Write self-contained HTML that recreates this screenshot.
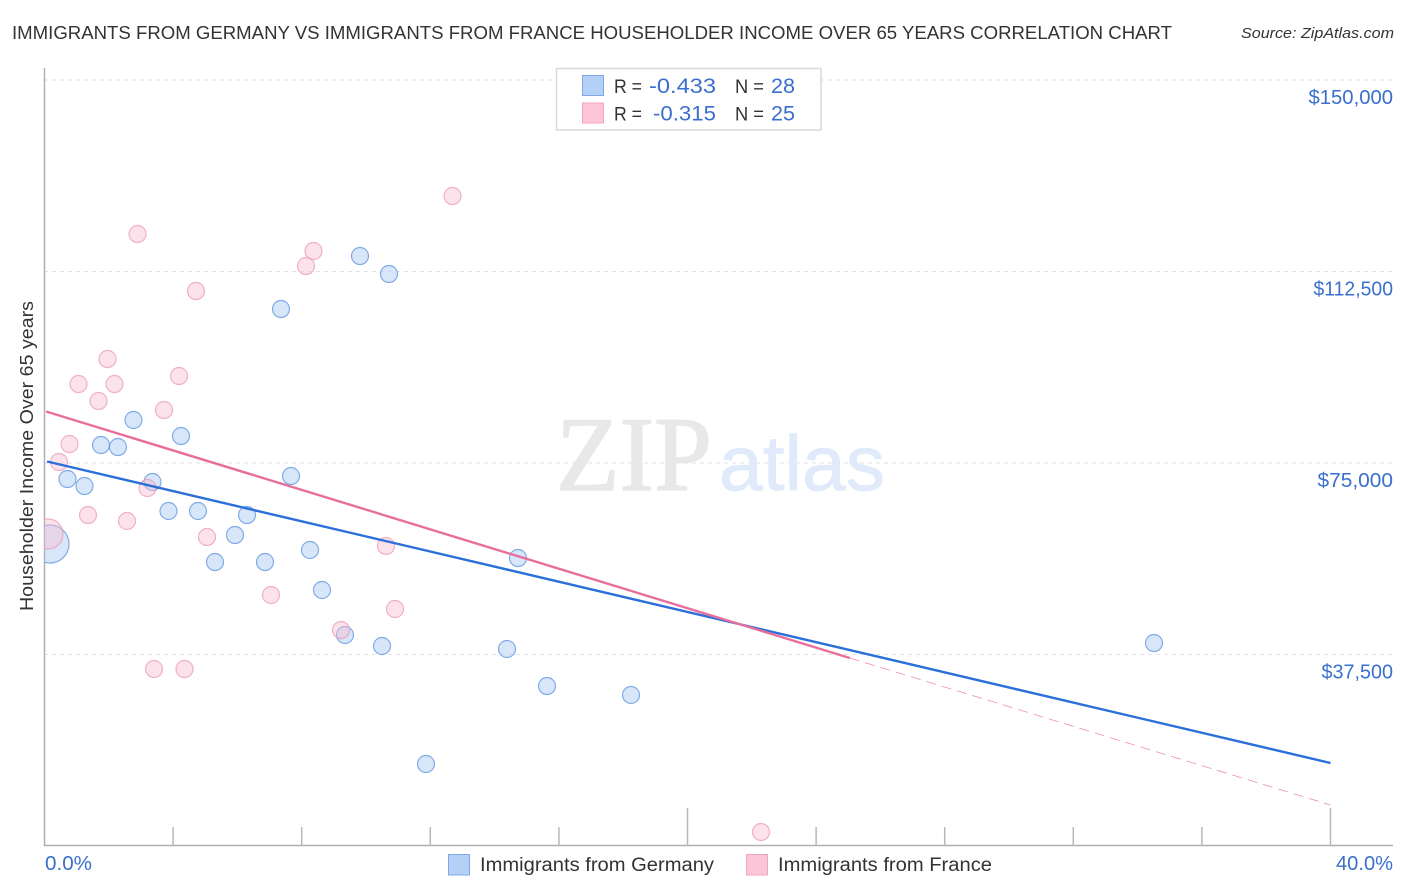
<!DOCTYPE html>
<html lang="en">
<head>
<meta charset="utf-8">
<title>Immigrants from Germany vs Immigrants from France Householder Income Over 65 Years Correlation Chart</title>
<style>
html,body{margin:0;padding:0;background:#fff;width:1406px;height:892px;overflow:hidden}
svg{display:block;font-family:"Liberation Sans",sans-serif}
</style>
</head>
<body>
<svg id="chart" xmlns="http://www.w3.org/2000/svg" width="1406" height="892" viewBox="0 0 1406 892">
  <defs>
    <clipPath id="plot-clip"><rect x="44.5" y="60" width="1350" height="786"/></clipPath>
  </defs>
  <rect x="0" y="0" width="1406" height="892" fill="#fff"/>
  <text x="12" y="39" font-size="18.5" fill="#333" textLength="1160" lengthAdjust="spacingAndGlyphs">IMMIGRANTS FROM GERMANY VS IMMIGRANTS FROM FRANCE HOUSEHOLDER INCOME OVER 65 YEARS CORRELATION CHART</text>
  <text x="1241" y="38" font-size="15" font-style="italic" fill="#333" textLength="153" lengthAdjust="spacingAndGlyphs">Source: ZipAtlas.com</text>

  <g id="grid"></g>

  <g>
    <text x="556" y="490" font-family="'Liberation Serif',serif" font-size="106" fill="#e8e8e8" stroke="#e8e8e8" stroke-width="1.5" textLength="156" lengthAdjust="spacingAndGlyphs">ZIP</text>
    <text x="719" y="490" font-size="78" fill="#e0eafa" stroke="#e0eafa" stroke-width="0.8" textLength="166" lengthAdjust="spacingAndGlyphs">atlas</text>
  </g>

  <g id="axes">
    <line x1="44.5" y1="68" x2="44.5" y2="846" stroke="#b0b0b0" stroke-width="1.5"/>
    <line x1="44" y1="845.5" x2="1393" y2="845.5" stroke="#b0b0b0" stroke-width="1.5"/>
  </g>
  <g id="x-ticks"></g>
  <g id="y-labels"></g>
  <g id="x-labels"></g>

  <text transform="translate(33,456) rotate(-90)" text-anchor="middle" font-size="18.5" fill="#333" textLength="310" lengthAdjust="spacingAndGlyphs">Householder Income Over 65 years</text>

  <g id="points" clip-path="url(#plot-clip)"></g>
  <g id="trends"></g>

  <g>
    <rect x="556.5" y="68.5" width="264.5" height="61.5" fill="#fff" stroke="#d9d9d9" stroke-width="1.5"/>
    <rect x="582.5" y="75.5" width="21" height="20" fill="#b5d0f7" stroke="#7fa9e6" stroke-width="1"/>
    <rect x="582.5" y="103" width="21" height="20" fill="#fdc6d8" stroke="#f0a5bf" stroke-width="1"/>
    <text x="614" y="93" font-size="19.5" fill="#333" textLength="28" lengthAdjust="spacingAndGlyphs">R =</text>
    <text x="649" y="93" font-size="21" fill="#3a6fce" textLength="67" lengthAdjust="spacingAndGlyphs">-0.433</text>
    <text x="735" y="93" font-size="19.5" fill="#333" textLength="29" lengthAdjust="spacingAndGlyphs">N =</text>
    <text x="771" y="93" font-size="21" fill="#3a6fce" textLength="24" lengthAdjust="spacingAndGlyphs">28</text>
    <text x="614" y="120.5" font-size="19.5" fill="#333" textLength="28" lengthAdjust="spacingAndGlyphs">R =</text>
    <text x="653" y="120.5" font-size="21" fill="#3a6fce" textLength="63" lengthAdjust="spacingAndGlyphs">-0.315</text>
    <text x="735" y="120.5" font-size="19.5" fill="#333" textLength="29" lengthAdjust="spacingAndGlyphs">N =</text>
    <text x="771" y="120.5" font-size="21" fill="#3a6fce" textLength="24" lengthAdjust="spacingAndGlyphs">25</text>
  </g>

  <g>
    <rect x="448.5" y="854.5" width="21" height="20.5" fill="#b5d0f7" stroke="#7fa9e6" stroke-width="1"/>
    <text x="480" y="871" font-size="19" fill="#333" textLength="234" lengthAdjust="spacingAndGlyphs">Immigrants from Germany</text>
    <rect x="746.5" y="854.5" width="21" height="20.5" fill="#fdc6d8" stroke="#f0a5bf" stroke-width="1"/>
    <text x="778" y="871" font-size="19" fill="#333" textLength="214" lengthAdjust="spacingAndGlyphs">Immigrants from France</text>
  </g>
</svg>
<script>
// Data: x = share of immigrants (%), y = householder income ($)
const germanyX = [0.715,1.244,1.757,2.286,2.768,3.359,4.246,3.857,4.774,5.303,5.925,6.299,6.859,7.667,7.356,8.258,8.631,9.347,9.813,10.715,10.498,14.386,14.728,15.630,18.243,11.866,34.510,0.171];
const germanyY = [71866,70495,78524,78132,83420,71278,80286,65600,65600,55613,60900,64816,55613,72453,105155,57963,50130,41318,115534,112009,39164,38577,56396,31331,29569,16057,39751,59138];
const germanySize = [1,1,1,1,1,1,1,1,1,1,1,1,1,1,1,1,1,1,1,1,1,1,1,1,1,1,1,5];
const franceX = [0.109,0.451,0.778,1.058,1.353,1.680,1.960,2.177,2.566,2.893,3.204,3.406,3.717,4.184,4.355,4.712,5.054,7.045,8.134,8.367,9.222,10.622,10.902,12.691,22.286];
const franceY = [61096,75195,78720,90469,64816,87140,95364,90469,63642,119842,70104,34660,85378,92035,34660,108680,60508,49151,113576,116513,42297,58746,46409,127283,2741];
const franceSize = [3.1,1,1,1,1,1,1,1,1,1,1,1,1,1,1,1,1,1,1,1,1,1,1,1,1];
const germanyTrendX = [0.08,40];
const germanyTrendY = [75293,16253];
const franceTrendX = [0.05,25.05,40];
const franceTrendY = [85085,36814,8029];
const xTickValues = [4,8,12,16,20,24,28,32,36,40];
const xTickMajor = [20,40];
const xLabelValues = ['0.0%','40.0%'];
const yTickValues = [150000,112500,75000,37500];
const yTickLabels = ['$150,000','$112,500','$75,000','$37,500'];

const NS = 'http://www.w3.org/2000/svg';
const xScale = v => 44.5 + v * (1330.5 - 44.5) / 40;
const yScale = v => 846 - v * 191.5 / 37500;
const radius = s => 8.5 * Math.sqrt(s);
const make = tag => document.createElementNS(NS, tag);
const blue = '#3a6fce';

const grid = document.getElementById('grid');
yTickValues.forEach(v => {
  const l = make('line');
  
  
  l.setAttribute('x1', 44);
  l.setAttribute('x2', 1393);
  l.setAttribute('y1', yScale(v));
  l.setAttribute('y2', yScale(v));
  l.setAttribute('stroke', '#e2e2e2');
  l.setAttribute('stroke-width', 1);
  l.setAttribute('stroke-dasharray', '4 4');
  grid.appendChild(l);
});

const xt = document.getElementById('x-ticks');
xTickValues.forEach(v => {
  const l = make('line');
  
  
  l.setAttribute('x1', xScale(v));
  l.setAttribute('x2', xScale(v));
  l.setAttribute('y1', 846);
  l.setAttribute('y2', xTickMajor.includes(v) ? 808 : 827);
  l.setAttribute('stroke', '#b8b8b8');
  l.setAttribute('stroke-width', 1.5);
  xt.appendChild(l);
});

function labelWidth(s) {
  let w = 0;
  for (const c of s) w += c === '1' ? 7 : c === ',' ? 5.5 : c === '3' ? 8 : c === '7' ? 10 : 12;
  return w;
}

const yl = document.getElementById('y-labels');
yTickValues.forEach((v, i) => {
  const t = make('text');
  
  
  const w = labelWidth(yTickLabels[i]);
  t.setAttribute('x', 1393 - w);
  t.setAttribute('y', yScale(v) + 24);
  t.setAttribute('font-size', 20);
  t.setAttribute('fill', blue);
  t.setAttribute('textLength', w);
  t.setAttribute('lengthAdjust', 'spacingAndGlyphs');
  t.textContent = yTickLabels[i];
  yl.appendChild(t);
});

const xl = document.getElementById('x-labels');
xLabelValues.forEach((s, i) => {
  const t = make('text');
  
  
  t.setAttribute('x', i === 0 ? 45 : 1336);
  t.setAttribute('y', 870);
  t.setAttribute('font-size', 20);
  t.setAttribute('fill', blue);
  t.setAttribute('textLength', i === 0 ? 47 : 57);
  t.setAttribute('lengthAdjust', 'spacingAndGlyphs');
  t.textContent = s;
  xl.appendChild(t);
});

const pts = document.getElementById('points');
function drawPoints(xs, ys, sizes, fill, stroke, name) {
  xs.forEach((x, i) => {
    const c = make('circle');
    
    
    c.setAttribute('cx', xScale(x));
    c.setAttribute('cy', yScale(ys[i]));
    c.setAttribute('r', radius(sizes[i]));
    c.setAttribute('fill', fill);
    c.setAttribute('fill-opacity', 0.45);
    c.setAttribute('stroke', stroke);
    c.setAttribute('stroke-opacity', 0.75);
    c.setAttribute('stroke-width', 1.2);
    pts.appendChild(c);
  });
}
drawPoints(germanyX, germanyY, germanySize, '#a9c8f5', '#5b93de', 'germany-point');
drawPoints(franceX, franceY, franceSize, '#f9bed3', '#e99ab8', 'france-point');

const tr = document.getElementById('trends');
const g = make('line');


g.setAttribute('x1', xScale(germanyTrendX[0]));
g.setAttribute('y1', yScale(germanyTrendY[0]));
g.setAttribute('x2', xScale(germanyTrendX[1]));
g.setAttribute('y2', yScale(germanyTrendY[1]));
g.setAttribute('stroke', '#2b6fd8');
g.setAttribute('stroke-width', 2.4);
tr.appendChild(g);

const f = make('line');


f.setAttribute('x1', xScale(franceTrendX[0]));
f.setAttribute('y1', yScale(franceTrendY[0]));
f.setAttribute('x2', xScale(franceTrendX[1]));
f.setAttribute('y2', yScale(franceTrendY[1]));
f.setAttribute('stroke', '#e86f9c');
f.setAttribute('stroke-width', 2.4);
tr.appendChild(f);

const fd = make('line');


fd.setAttribute('x1', xScale(franceTrendX[1]));
fd.setAttribute('y1', yScale(franceTrendY[1]));
fd.setAttribute('x2', xScale(franceTrendX[2]));
fd.setAttribute('y2', yScale(franceTrendY[2]));
fd.setAttribute('stroke', '#ec8fb0');
fd.setAttribute('stroke-width', 0.8);
fd.setAttribute('stroke-dasharray', '10 6');
tr.appendChild(fd);
</script>
</body>
</html>
